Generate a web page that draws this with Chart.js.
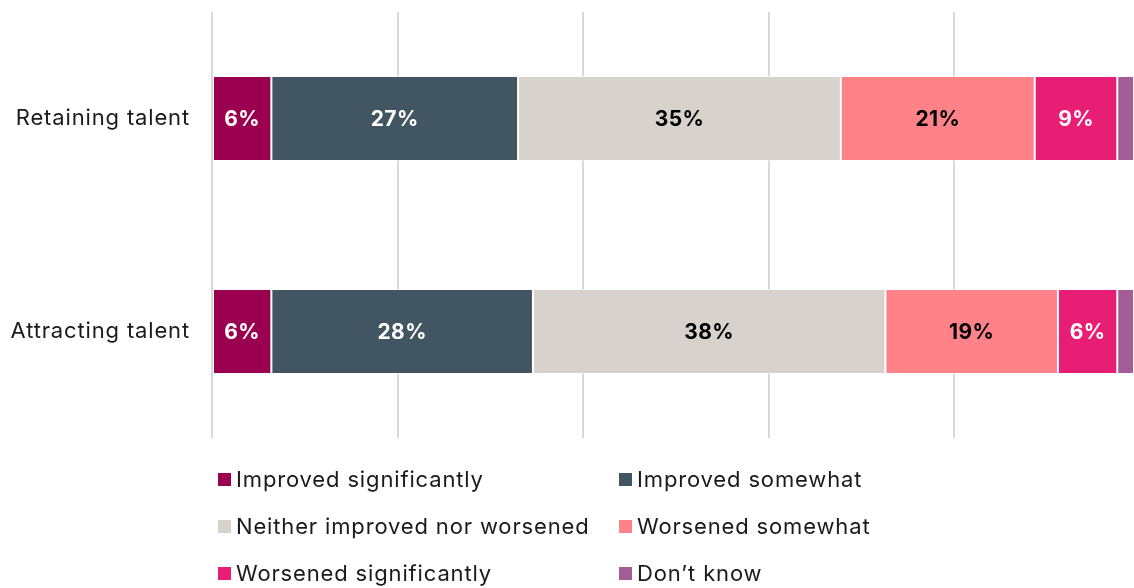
<!DOCTYPE html>
<html>
<head>
<meta charset="utf-8">
<script src="https://cdn.jsdelivr.net/npm/chart.js@4.4.1/dist/chart.umd.min.js"></script>
<style>
  html, body { margin: 0; padding: 0; background: #ffffff; overflow: hidden; }
  #wrap { position: relative; width: 1134px; height: 588px; font-family: Inter, "Noto Sans", sans-serif; }
  #c { position: absolute; left: 0; top: 0; }
  #legend { position: absolute; left: 0; top: 0; width: 1134px; height: 588px; pointer-events: none; }
  .li { position: absolute; display: flex; align-items: center; height: 30px; font-size: 22px; letter-spacing: 0.85px; color: #1a1a1a; white-space: nowrap; }
  .sw { width: 13px; height: 13px; margin-right: 5px; flex: none; }
</style>
</head>
<body>
<div id="wrap">
  <canvas id="c" width="1134" height="440"></canvas>
  <div id="legend"></div>
</div>
<script>
// ---- Data ----
const categories = ["Retaining talent", "Attracting talent"];
const seriesNames = [
  "Improved significantly",
  "Improved somewhat",
  "Neither improved nor worsened",
  "Worsened somewhat",
  "Worsened significantly",
  "Don\u2019t know"
];
const improvedSignificantly = [6.4, 6.4];
const improvedSomewhat      = [26.6, 28.2];
const neitherImproved       = [34.8, 38.0];
const worsenedSomewhat      = [20.9, 18.6];
const worsenedSignificantly = [8.9, 6.4];
const dontKnow              = [1.8, 1.8];
const gridTicks = [0, 20, 40, 60, 80];

const seriesColors = ["#9B0050", "#425563", "#D7D2CB", "#FF8289", "#E81E74", "#A25C96"];
const labelColors  = ["#ffffff", "#ffffff", "#000000", "#000000", "#ffffff", "#ffffff"];
const seriesValues = [improvedSignificantly, improvedSomewhat, neitherImproved, worsenedSomewhat, worsenedSignificantly, dontKnow];

const datasets = seriesNames.map((name, i) => ({
  label: name,
  data: seriesValues[i],
  backgroundColor: seriesColors[i],
  borderColor: "rgba(255,255,255,0.55)",
  borderWidth: 1,
  borderSkipped: false,
  categoryPercentage: 0.4,
  barPercentage: 1.0
}));

const spacingPlugin = {
  id: "spacing",
  beforeDraw(chart) { chart.ctx.letterSpacing = "0.85px"; }
};

const labelPlugin = {
  id: "segLabels",
  afterDatasetsDraw(chart) {
    const ctx = chart.ctx;
    ctx.save();
    ctx.letterSpacing = "0.4px";
    ctx.font = "bold 21px Inter, 'Noto Sans', sans-serif";
    ctx.textAlign = "center";
    ctx.textBaseline = "middle";
    chart.data.datasets.forEach((ds, di) => {
      const meta = chart.getDatasetMeta(di);
      meta.data.forEach((bar, idx) => {
        const v = ds.data[idx];
        if (v < 3) return;
        const p = bar.getProps(["x", "y", "base"], true);
        ctx.fillStyle = labelColors[di];
        ctx.fillText(Math.round(v) + "%", (p.x + p.base) / 2, p.y + 1);
      });
    });
    ctx.restore();
  }
};

const axisMax = 99.4;

new Chart(document.getElementById("c"), {
  type: "bar",
  data: { labels: categories, datasets: datasets },
  options: {
    indexAxis: "y",
    responsive: false,
    animation: false,
    devicePixelRatio: 1,
    layout: { padding: { top: 12, bottom: 2, left: 0, right: 0 } },
    plugins: { legend: { display: false }, tooltip: { enabled: false } },
    scales: {
      x: {
        stacked: true,
        min: 0,
        max: axisMax,
        ticks: { display: false, stepSize: 20 },
        afterBuildTicks(scale) {
          scale.ticks = gridTicks.map(v => ({ value: v }));
        },
        grid: { color: "#d9d9d9", lineWidth: 2, drawTicks: false },
        border: { display: false }
      },
      y: {
        stacked: true,
        afterFit(scale) {
          scale.width = 212;
          scale.paddingTop = 0;
          scale.paddingBottom = 0;
        },
        grid: { display: false, drawTicks: false },
        border: { display: false },
        ticks: {
          color: "#1a1a1a",
          padding: 22,
          font: { family: "Inter, 'Noto Sans', sans-serif", size: 22 }
        }
      }
    }
  },
  plugins: [spacingPlugin, labelPlugin]
});

// HTML legend built from the series
const legend = document.getElementById("legend");
const colLeft = [218, 619];
const rowCenter = [479, 526, 573];
seriesNames.forEach((name, i) => {
  const item = document.createElement("div");
  item.className = "li";
  item.style.left = colLeft[i % 2] + "px";
  item.style.top = (rowCenter[Math.floor(i / 2)] - 15) + "px";
  const sw = document.createElement("span");
  sw.className = "sw";
  sw.style.background = seriesColors[i];
  const tx = document.createElement("span");
  tx.textContent = name;
  item.appendChild(sw);
  item.appendChild(tx);
  legend.appendChild(item);
});
</script>
</body>
</html>
